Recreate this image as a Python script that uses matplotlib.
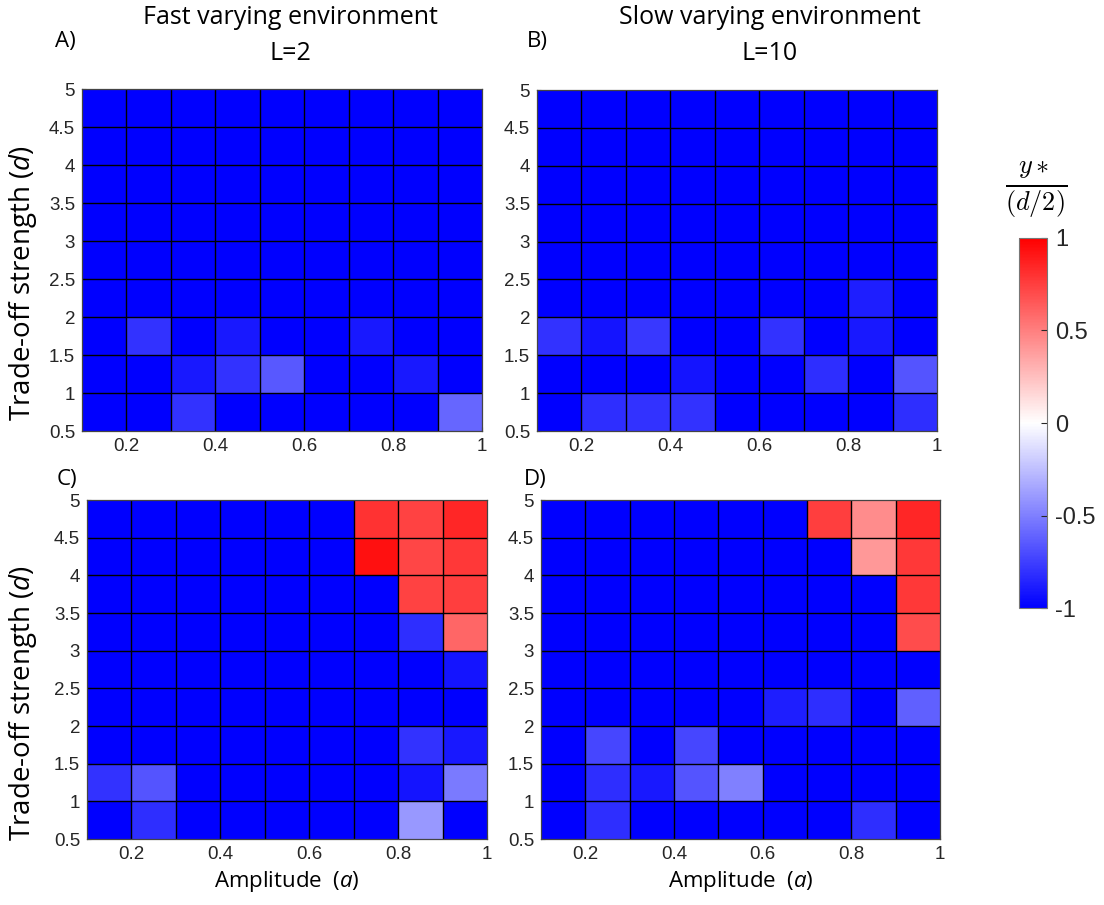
import numpy as np
import matplotlib.pyplot as plt

plt.rcParams['font.family'] = ['Liberation Sans', 'DejaVu Sans']
plt.rcParams['axes.unicode_minus'] = False
plt.rcParams['mathtext.fontset'] = 'custom'
plt.rcParams['mathtext.it'] = 'Open Sans:italic'
plt.rcParams['mathtext.rm'] = 'Open Sans'

# grid edges: amplitude a (x) and trade-off strength d (y)
a_edges = [0.1, 0.2, 0.3, 0.4, 0.5, 0.6, 0.7, 0.8, 0.9, 1.0]
d_edges = [0.5, 1.0, 1.5, 2.0, 2.5, 3.0, 3.5, 4.0, 4.5, 5.0]

# y*/(d/2), rows from d=0.5 (bottom) to d=5 (top)
A_fast_L2 = [
    [-1, -1, -0.8, -1, -1, -1, -1, -1, -0.6],
    [-1, -1, -0.9, -0.8, -0.65, -1, -1, -0.9, -1],
    [-1, -0.8, -1, -0.9, -1, -1, -0.9, -1, -1],
    [-1, -1, -1, -1, -1, -1, -1, -1, -1],
    [-1, -1, -1, -1, -1, -1, -1, -1, -1],
    [-1, -1, -1, -1, -1, -1, -1, -1, -1],
    [-1, -1, -1, -1, -1, -1, -1, -1, -1],
    [-1, -1, -1, -1, -1, -1, -1, -1, -1],
    [-1, -1, -1, -1, -1, -1, -1, -1, -1],
]
B_slow_L10 = [
    [-1, -0.82, -0.8, -0.8, -1, -1, -1, -1, -0.82],
    [-1, -1, -1, -0.92, -1, -1, -0.82, -1, -0.67],
    [-0.8, -0.92, -0.78, -1, -1, -0.8, -1, -0.9, -1],
    [-1, -1, -1, -1, -1, -1, -1, -0.88, -1],
    [-1, -1, -1, -1, -1, -1, -1, -1, -1],
    [-1, -1, -1, -1, -1, -1, -1, -1, -1],
    [-1, -1, -1, -1, -1, -1, -1, -1, -1],
    [-1, -1, -1, -1, -1, -1, -1, -1, -1],
    [-1, -1, -1, -1, -1, -1, -1, -1, -1],
]
C_fast_L2 = [
    [-1, -0.82, -1, -1, -1, -1, -1, -0.4, -1],
    [-0.8, -0.67, -1, -1, -1, -1, -1, -0.92, -0.52],
    [-1, -1, -1, -1, -1, -1, -1, -0.8, -0.9],
    [-1, -1, -1, -1, -1, -1, -1, -1, -1],
    [-1, -1, -1, -1, -1, -1, -1, -1, -0.92],
    [-1, -1, -1, -1, -1, -1, -1, -0.82, 0.6],
    [-1, -1, -1, -1, -1, -1, -1, 0.74, 0.75],
    [-1, -1, -1, -1, -1, -1, 0.93, 0.72, 0.78],
    [-1, -1, -1, -1, -1, -1, 0.8, 0.74, 0.85],
]
D_slow_L10 = [
    [-1, -0.82, -1, -1, -1, -1, -1, -0.82, -1],
    [-1, -0.82, -0.9, -0.67, -0.5, -1, -1, -1, -1],
    [-1, -0.72, -1, -0.72, -1, -1, -1, -1, -1],
    [-1, -1, -1, -1, -1, -0.88, -0.82, -1, -0.62],
    [-1, -1, -1, -1, -1, -1, -1, -1, -1],
    [-1, -1, -1, -1, -1, -1, -1, -1, 0.7],
    [-1, -1, -1, -1, -1, -1, -1, -1, 0.78],
    [-1, -1, -1, -1, -1, -1, -1, 0.4, 0.78],
    [-1, -1, -1, -1, -1, -1, 0.75, 0.45, 0.85],
]

panels = [A_fast_L2, B_slow_L10, C_fast_L2, D_slow_L10]
# axes boxes in pixels: left, top, right, bottom
boxes = [(82, 89, 482, 431), (537, 90, 937, 431),
         (87, 500, 487, 839), (541, 500, 940, 839)]
ylab_y = {0: 283, 2: 703}   # centre of the rotated y label, pixels from top

W, H = 1104, 905
fig = plt.figure(figsize=(W / 100, H / 100), dpi=100)

title_font = 'Open Sans'

for k in range(4):
    l, t, r, b = boxes[k]
    ax = fig.add_axes([l / W, 1 - b / H, (r - l) / W, (b - t) / H])
    mesh = ax.pcolormesh(a_edges, d_edges, np.array(panels[k]), cmap='bwr',
                         vmin=-1, vmax=1)
    # cell borders
    for xe in a_edges[1:-1]:
        ax.axvline(xe, color='k', lw=1.0)
    for ye in d_edges[1:-1]:
        ax.axhline(ye, color='k', lw=1.0)
    ax.set_xlim(0.1, 1.0)
    ax.set_ylim(0.5, 5)
    ax.set_xticks([0.2, 0.4, 0.6, 0.8, 1.0])
    ax.set_xticklabels(['0.2', '0.4', '0.6', '0.8', '1'])
    ax.set_yticks(d_edges)
    ax.set_yticklabels(['0.5', '1', '1.5', '2', '2.5', '3', '3.5', '4', '4.5', '5'])
    ax.tick_params(direction='in', length=3, labelsize=13.5, colors='#262626', pad=5)
    for s in ax.spines.values():
        s.set_color('#444444')
        s.set_linewidth(0.9)
    if k % 2 == 0:
        fig.text(23 / W, 1 - ylab_y[k] / H, r'Trade-off strength ($d$)', fontsize=20,
                 family=title_font, rotation=90, ha='center', va='center')
    if k >= 2:
        ax.set_xlabel(r'Amplitude  ($a$)', fontsize=16, family=title_font, labelpad=4)

fig.text(55 / W, 1 - 42 / H, 'A)', fontsize=16, family=title_font, ha='left', va='center')
fig.text(527 / W, 1 - 42 / H, 'B)', fontsize=16, family=title_font, ha='left', va='center')
fig.text(57 / W, 1 - 479 / H, 'C)', fontsize=16, family=title_font, ha='left', va='center')
fig.text(524 / W, 1 - 479 / H, 'D)', fontsize=16, family=title_font, ha='left', va='center')

fig.text(290 / W, 1 - 18 / H, 'Fast varying environment', fontsize=18, family=title_font,
         ha='center', va='center')
fig.text(290 / W, 1 - 53 / H, 'L=2', fontsize=18, family=title_font, ha='center', va='center')
fig.text(770 / W, 1 - 18 / H, 'Slow varying environment', fontsize=18, family=title_font,
         ha='center', va='center')
fig.text(770 / W, 1 - 53 / H, 'L=10', fontsize=18, family=title_font, ha='center', va='center')

# colorbar
cax = fig.add_axes([1019 / W, 1 - 608 / H, 28 / W, 370 / H])
cb = fig.colorbar(mesh, cax=cax, ticks=[-1, -0.5, 0, 0.5, 1])
cb.ax.set_yticklabels(['-1', '-0.5', '0', '0.5', '1'])
cb.ax.tick_params(direction='in', length=4, labelsize=17, colors='#262626', pad=6)
cb.outline.set_edgecolor('#777777')
cb.outline.set_linewidth(0.8)
fig.text(1036 / W, 1 - 190 / H, r'$\frac{y*}{(d/2)}$', fontsize=27, ha='center', va='center',
         math_fontfamily='cm')

fig.savefig('out.png', dpi=100)
